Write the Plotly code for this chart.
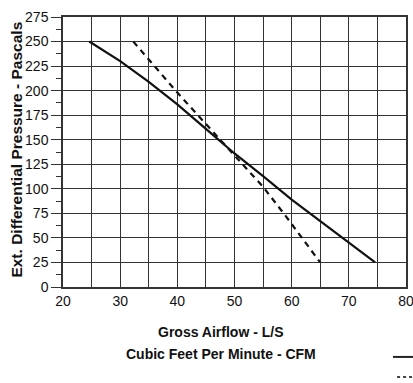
import plotly.graph_objects as go

# Data
solid_x = [24.6, 30, 35, 40, 45, 50, 55, 60, 65, 70, 74.6]
solid_y = [250, 230, 209, 186, 161, 136, 113, 89, 67, 45, 25]

dashed_x = [32.3, 40, 45, 50, 55, 59, 65]
dashed_y = [250, 198, 166, 134, 102, 72, 25]

x_grid = [20, 25, 30, 35, 40, 45, 50, 55, 60, 65, 70, 75, 80]
x_labels = ["20", "", "30", "", "40", "", "50", "", "60", "", "70", "", "80"]
y_ticks = [0, 25, 50, 75, 100, 125, 150, 175, 200, 225, 250, 275]

FONT = "Liberation Sans, Arial, Helvetica, sans-serif"
GRID = "#333333"

fig = go.Figure()
fig.add_trace(go.Scatter(x=solid_x, y=solid_y, mode="lines",
                         line=dict(color="#111111", width=2.2), showlegend=False))
fig.add_trace(go.Scatter(x=dashed_x, y=dashed_y, mode="lines",
                         line=dict(color="#111111", width=2.2, dash="6px,5px"), showlegend=False))

fig.update_layout(
    width=413, height=383,
    margin=dict(l=63, r=7, t=17, b=96, autoexpand=False),
    paper_bgcolor="white", plot_bgcolor="white",
    font=dict(family=FONT, size=14, color="#111111"),
    xaxis=dict(
        range=[20, 80], tickmode="array", tickvals=x_grid, ticktext=x_labels,
        showgrid=True, gridcolor=GRID, gridwidth=1,
        showline=True, linecolor=GRID, linewidth=1.5, mirror=True,
        ticks="", zeroline=False, ticklabeloverflow="allow",
    ),
    yaxis=dict(
        range=[0, 275], tickmode="array", tickvals=y_ticks, ticktext=[str(v) for v in y_ticks],
        showgrid=True, gridcolor=GRID, gridwidth=1,
        showline=True, linecolor=GRID, linewidth=1.5, mirror=True,
        ticks="outside", ticklen=10, tickcolor=GRID, tickwidth=1,
        minor=dict(tickmode="linear", tick0=12.5, dtick=25, ticks="outside", ticklen=5,
                   tickcolor=GRID, tickwidth=1, showgrid=False),
        zeroline=False,
    ),
    annotations=[
        dict(text="<b>Ext. Differential Pressure - Pascals</b>", xref="paper", yref="paper",
             x=-0.134, y=0.509, xanchor="center", yanchor="middle", textangle=-90,
             showarrow=False, font=dict(size=15.5, family=FONT, color="#111111")),
        dict(text="<b>Gross Airflow - L/S</b>", xref="paper", yref="paper",
             x=0.46, y=-0.167, xanchor="center", yanchor="middle", showarrow=False,
             font=dict(size=14, family=FONT, color="#111111")),
        dict(text="<b>Cubic Feet Per Minute - CFM</b>", xref="paper", yref="paper",
             x=0.46, y=-0.248, xanchor="center", yanchor="middle", showarrow=False,
             font=dict(size=14, family=FONT, color="#111111")),
    ],
    shapes=[
        dict(type="line", xref="paper", yref="paper", x0=0.962, x1=1.03, y0=-0.259, y1=-0.259,
             line=dict(color="#222222", width=2)),
        dict(type="line", xref="paper", yref="paper", x0=0.974, x1=1.03, y0=-0.333, y1=-0.333,
             line=dict(color="#444444", width=2, dash="dot")),
    ],
)

fig.write_html("out.html", config={"displayModeBar": False},
               post_script="document.body.style.margin='0';")
